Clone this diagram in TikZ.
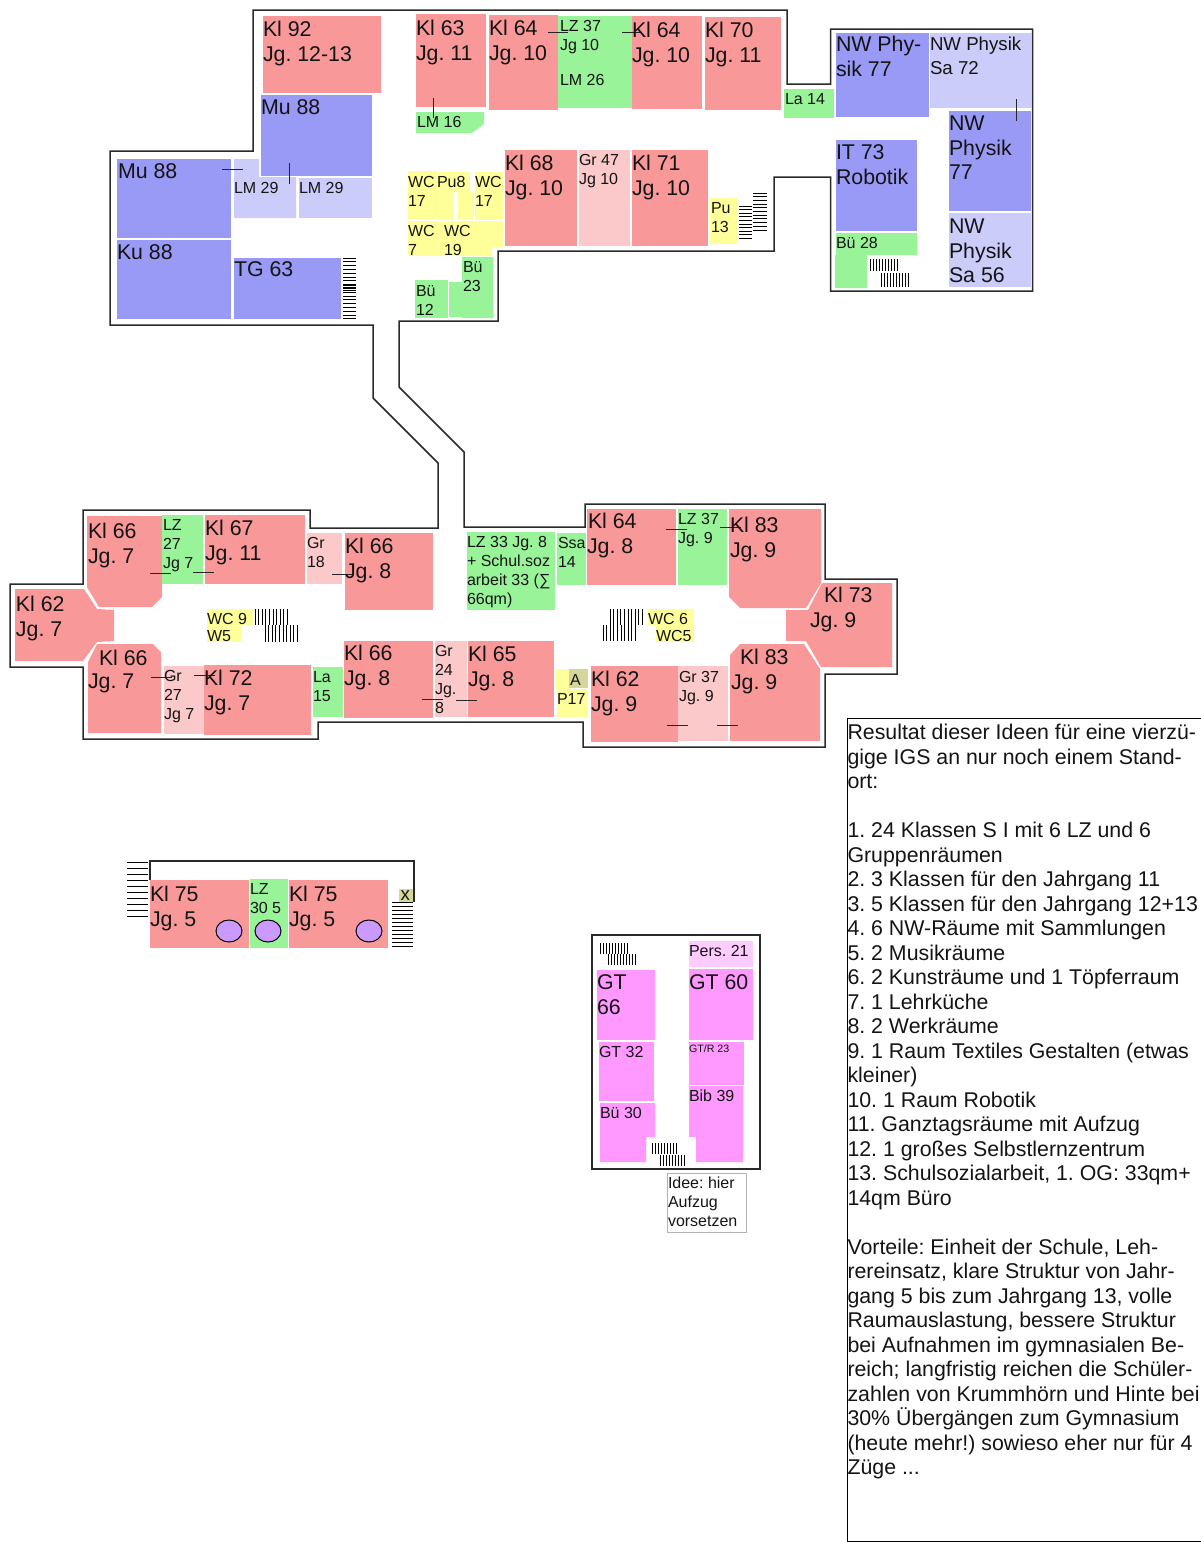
\documentclass[tikz,border=0pt]{standalone}
\usepackage{fontspec}
\setmainfont{Liberation Sans}
\frenchspacing
\definecolor{cKl}{HTML}{F89898}
\definecolor{cGr}{HTML}{FBC9C9}
\definecolor{cNw}{HTML}{9999F6}
\definecolor{cNl}{HTML}{CCCCFA}
\definecolor{cLz}{HTML}{99F399}
\definecolor{cWc}{HTML}{FFFF99}
\definecolor{cGt}{HTML}{FF99FF}
\definecolor{cPe}{HTML}{FFCCFF}
\definecolor{cOl}{HTML}{D6D69A}
\definecolor{cEl}{HTML}{CC99FF}
\definecolor{cWall}{HTML}{2A2A2A}
\tikzset{
  kl/.style={fill=cKl}, grp/.style={fill=cGr}, nwr/.style={fill=cNw}, nwl/.style={fill=cNl},
  lzr/.style={fill=cLz}, wcr/.style={fill=cWc}, gtr/.style={fill=cGt},
  wall/.style={draw=cWall,line width=1.5pt,line join=miter},
  tick/.style={draw=black!85,line width=1pt},
  stair/.style={draw=black,line width=0.9pt},
  lbl/.style={anchor=north west,inner sep=0pt,outer sep=0pt,align=left,text=black!92,yshift=-2pt},
  big/.style={lbl,font=\fontsize{21.33}{24.6}\selectfont},
  bigm/.style={lbl,font=\fontsize{18.67}{24}\selectfont},
  mid/.style={lbl,font=\fontsize{16}{19}\selectfont},
  tin/.style={lbl,font=\fontsize{10.67}{12}\selectfont},
  txt/.style={lbl,font=\fontsize{21.33}{24.5}\selectfont},
}
\newcommand\tp{\rule{0pt}{.73em}}
\newcommand\hst[5]{\foreach \q in {#3,#4,...,#5}{\draw[stair] (#1,\q) -- (#2,\q);}}
\newcommand\vst[5]{\foreach \q in {#1,#2,...,#3}{\draw[stair] (\q,#4) -- (\q,#5);}}
\begin{document}
\begin{tikzpicture}[x=1pt,y=-1pt]
\useasboundingbox (0,0) rectangle (1200,1542);
\fill[white] (0,0) rectangle (1200,1542);
% outlines
\draw[wall] (253,10) -- (787,10) -- (787,84) -- (830.5,84) -- (830.5,29) -- (1032.5,29) -- (1032.5,291) -- (830.5,291) -- (830.5,177) -- (774,177) -- (774,251) -- (498,251) -- (498,321) -- (399,321) -- (399,387) -- (464,452) -- (464,527) -- (585,527) -- (585,504) -- (825,504) -- (825,579) -- (897,579) -- (897,674) -- (825,674) -- (825,747) -- (583,747) -- (583,722) -- (318,722) -- (318,739) -- (83,739) -- (83,667) -- (10,667) -- (10,584) -- (83,584) -- (83,510) -- (310,510) -- (310,528) -- (438,528) -- (438,463) -- (373,398) -- (373,325) -- (110,325) -- (110,151) -- (253,151) -- cycle;
\draw[wall] (150,880) -- (150,861) -- (414,861) -- (414,902);
\draw[wall] (592,935) rectangle (760,1169);
% upper block rooms
\fill[kl] (263,16) rectangle (381,93);
\fill[kl] (416,14) rectangle (486,107);
\fill[kl] (489,15) rectangle (558,110);
\fill[lzr] (558,16) rectangle (632,108);
\fill[kl] (632,16) rectangle (702,109);
\fill[kl] (705,17) rectangle (781,110);
\fill[lzr] (784,89) rectangle (834,118);
\fill[nwr] (836,33) rectangle (929,117);
\fill[nwl] (930,33) rectangle (1032,108);
\fill[nwr] (949,111) rectangle (1031,211);
\fill[nwl] (949,213) rectangle (1031,287);
\fill[nwr] (836,140) rectangle (917,231);
\fill[lzr] (836,233) -- (917,233) -- (917,255) -- (867,255) -- (867,288) -- (835,288) -- (835,255) -- (836,255) -- cycle;
\fill[lzr] (416,112) -- (484,112) -- (484,124) -- (472,133) -- (416,133) -- cycle;
\fill[nwr] (261,95) rectangle (372,176);
\fill[nwr] (117,159) rectangle (231,238);
\fill[nwl] (234,159) -- (259,159) -- (259,177) -- (296,177) -- (296,218) -- (234,218) -- cycle;
\fill[nwl] (299,178) rectangle (372,218);
\fill[nwr] (117,240) rectangle (231,319);
\fill[nwr] (234,258) rectangle (341,319);
\fill[wcr] (408,171) rectangle (437,219);
\fill[wcr] (437.5,172) rectangle (470,192);
\fill[wcr] (437.5,192) rectangle (453,220);
\fill[wcr] (458,192) rectangle (474,219);
\fill[wcr] (474.5,172) rectangle (503,220);
\fill[wcr] (408,221) rectangle (443,256);
\fill[wcr] (444,221) -- (503,221) -- (503,247) -- (492,247) -- (492,256) -- (444,256) -- cycle;
\fill[lzr] (415,280) rectangle (448,318);
\fill[lzr] (462,257) -- (493,257) -- (493,318) -- (462,318) -- (462,317) -- (449,317) -- (449,282) -- (462,282) -- cycle;
\fill[kl] (505,150) rectangle (577,246);
\fill[grp] (579,150) rectangle (630,246);
\fill[kl] (632,150) rectangle (708,246);
\fill[wcr] (710,198) rectangle (737,244);
% lower block rooms
\fill[kl] (87,516) -- (162,516) -- (162,597) -- (152,607) -- (99,607) -- (87,587) -- cycle;
\fill[lzr] (162,515) rectangle (203,584);
\fill[kl] (205,515) rectangle (305,584);
\fill[grp] (307,533) rectangle (342,584);
\fill[kl] (345,533) rectangle (433,610);
\fill[kl] (15,589) -- (84,589) -- (97,609) -- (114,610) -- (114,641) -- (97,642) -- (83,661) -- (15,661) -- cycle;
\fill[kl] (88,662) -- (97,644) -- (153,644) -- (161,652) -- (161,733) -- (88,733) -- cycle;
\fill[grp] (164,666) rectangle (204,734);
\fill[kl] (204,665) rectangle (311,735);
\fill[lzr] (313,667) rectangle (343,717);
\fill[kl] (344,641) rectangle (433,718);
\fill[grp] (435,641) rectangle (467,717);
\fill[wcr] (207,609) rectangle (253,625);
\fill[wcr] (207,626) rectangle (241,642);
\fill[lzr] (467,532) rectangle (555,610);
\fill[lzr] (557,533) rectangle (586,585);
\fill[kl] (587,509) rectangle (676,585);
\fill[lzr] (678,509) rectangle (727,585);
\fill[kl] (729,509) -- (821,509) -- (821,583) -- (806,608) -- (740,608) -- (729,597) -- cycle;
\fill[kl] (822,583) -- (892,583) -- (892,667) -- (821,667) -- (806,641) -- (786,641) -- (786,610) -- (808,610) -- cycle;
\fill[kl] (730,655) -- (740,644) -- (804,644) -- (820,669) -- (820,741) -- (730,741) -- cycle;
\fill[grp] (678,666) rectangle (728,741);
\fill[kl] (591,666) rectangle (678,742);
\fill[wcr] (557,689) rectangle (588,717);
\fill[wcr] (556,669) rectangle (569,689);
\fill[cOl] (569,669) rectangle (588,688);
\fill[kl] (468,641) rectangle (554,717);
\fill[wcr] (648,609) rectangle (693,625);
\fill[wcr] (656,626) rectangle (694,642);
% Jg 5 wing
\fill[kl] (150,880) rectangle (249,948);
\fill[lzr] (250,879) rectangle (288,948);
\fill[kl] (289,880) rectangle (388,948);
\fill[cOl] (399,889) rectangle (413,902);
\draw[fill=cEl,line width=1pt] (229,931) ellipse (13 and 11);
\draw[fill=cEl,line width=1pt] (268,931) ellipse (13 and 11);
\draw[fill=cEl,line width=1pt] (369,931) ellipse (13 and 11);
% GT block
\fill[cPe] (689,941) rectangle (753,967);
\fill[gtr] (689,969) rectangle (753,1040);
\fill[gtr] (597,970) rectangle (655,1040);
\fill[gtr] (599,1042) rectangle (654,1101);
\fill[gtr] (600,1103) -- (655,1103) -- (655,1137) -- (646,1137) -- (646,1162) -- (600,1162) -- cycle;
\fill[gtr] (689,1042) rectangle (744,1085);
\fill[gtr] (689,1086) -- (743,1086) -- (743,1162) -- (696,1162) -- (696,1137) -- (689,1137) -- cycle;
\draw[black!30,line width=0.9pt] (667,1173) rectangle (746,1232);
% stairs
\hst{343}{356}{258}{261.8}{319}
\hst{343}{356}{284}{285.5}{291}
\hst{739}{752}{206}{209.6}{242}
\hst{753}{767}{193}{196.7}{230}
\vst{870}{873}{899}{259}{271}
\vst{881}{884}{909}{273}{287}
\vst{255}{258.6}{291}{609}{625}
\vst{265}{268.6}{301}{625}{642}
\vst{610}{613.6}{644}{609}{625}
\vst{603}{606.6}{637}{625}{641}
\hst{127}{148}{862}{868}{920}
\hst{392}{413}{902}{906}{946}
\vst{600}{603}{627}{943}{954}
\vst{608}{611}{635}{954}{965}
\vst{652}{655}{676}{1143}{1154}
\vst{660}{663}{684}{1155}{1166}
% door ticks
\foreach \a/\b/\c/\d in {222/169/243/169,289/163/289/184,433/98/433/118,548/32/568/32,622/32/642/32,1016/99/1016/121,150/573/171/573,193/572/214/572,332/574/353/574,151/677/172/677,194/675/215/675,422/699/443/699,666/529/687/529,720/527/741/527,456/700/477/700,667/725/688/725,717/725/738/725}{\draw[tick] (\a,\b) -- (\c,\d);}
% labels upper
\node[big] at (263,19) {\tp Kl 92\\Jg. 12-13};
\node[big] at (416,18) {\tp Kl 63\\Jg. 11};
\node[big] at (489,18) {\tp Kl 64\\Jg. 10};
\node[mid] at (560,18) {\tp LZ 37\\Jg 10};
\node[mid] at (560,72) {\tp LM 26};
\node[big] at (632,20) {\tp Kl 64\\Jg. 10};
\node[big] at (705,20) {\tp Kl 70\\Jg. 11};
\node[mid] at (785,91) {\tp La 14};
\node[big] at (836,34) {\tp NW Phy-\\sik 77};
\node[bigm] at (930,35) {\tp NW Physik\\Sa 72};
\node[big] at (949,113) {\tp NW\\Physik\\77};
\node[big] at (949,216) {\tp NW\\Physik\\Sa 56};
\node[big] at (836,142) {\tp IT 73\\Robotik};
\node[mid] at (836,235) {\tp Bü 28};
\node[mid] at (417,114) {\tp LM 16};
\node[big] at (261,97) {\tp Mu 88};
\node[big] at (118,161) {\tp Mu 88};
\node[mid] at (234,180) {\tp LM 29};
\node[mid] at (299,180) {\tp LM 29};
\node[big] at (117,242) {\tp Ku 88};
\node[big] at (234,259) {\tp TG 63};
\node[mid] at (408,174) {\tp WC\\17};
\node[mid] at (437,174) {\tp Pu8};
\node[mid] at (475,174) {\tp WC\\17};
\node[mid] at (408,223) {\tp WC\\7};
\node[mid] at (444,223) {\tp WC\\19};
\node[mid] at (463,259) {\tp Bü\\23};
\node[mid] at (416,283) {\tp Bü\\12};
\node[big] at (505,153) {\tp Kl 68\\Jg. 10};
\node[mid] at (579,152) {\tp Gr 47\\Jg 10};
\node[big] at (632,153) {\tp Kl 71\\Jg. 10};
\node[mid] at (711,200) {\tp Pu\\13};
% labels lower
\node[big] at (88,521) {\tp Kl 66\\Jg. 7};
\node[mid] at (163,517) {\tp LZ\\27\\Jg 7};
\node[big] at (205,518) {\tp Kl 67\\Jg. 11};
\node[mid] at (307,535) {\tp Gr\\18};
\node[big] at (345,536) {\tp Kl 66\\Jg. 8};
\node[big] at (16,594) {\tp Kl 62\\Jg. 7};
\node[big] at (99,648) {\tp Kl 66};
\node[big] at (88,671) {\tp Jg. 7};
\node[mid] at (164,668) {\tp Gr\\27\\Jg 7};
\node[big] at (204,668) {\tp Kl 72\\Jg. 7};
\node[mid] at (313,669) {\tp La\\15};
\node[big] at (344,643) {\tp Kl 66\\Jg. 8};
\node[mid] at (435,643) {\tp Gr\\24\\Jg.\\8};
\node[big] at (468,644) {\tp Kl 65\\Jg. 8};
\node[mid] at (207,611) {\tp WC 9};
\node[mid] at (207,628) {\tp W5};
\node[mid] at (467,534) {\tp LZ 33 Jg. 8\\+ Schul.soz\\arbeit 33 (∑\\66qm)};
\node[mid] at (558,535) {\tp Ssa\\14};
\node[big] at (588,511) {\tp Kl 64\\\hspace*{-1pt}Jg. 8};
\node[mid] at (678,511) {\tp LZ 37\\Jg. 9};
\node[big] at (730,515) {\tp Kl 83\\Jg. 9};
\node[big] at (824,585) {\tp Kl 73};
\node[big] at (810,610) {\tp Jg. 9};
\node[big] at (740,647) {\tp Kl 83};
\node[big] at (731,672) {\tp Jg. 9};
\node[mid] at (679,669) {\tp Gr 37\\Jg. 9};
\node[big] at (591,669) {\tp Kl 62\\Jg. 9};
\node[mid] at (570,672) {\tp A};
\node[mid] at (557,691) {\tp P17};
\node[mid] at (648,611) {\tp WC 6};
\node[mid] at (656,628) {\tp WC5};
% labels wing
\node[big] at (150,884) {\tp Kl 75\\Jg. 5};
\node[mid] at (250,881) {\tp LZ\\30 5};
\node[big] at (289,884) {\tp Kl 75\\Jg. 5};
\node[bigm] at (400.5,884.4) {\tp x};
% labels GT
\node[mid] at (689,943) {\tp Pers. 21};
\node[big] at (689,972) {\tp GT 60};
\node[big] at (597,972) {\tp GT\\66};
\node[mid] at (599,1044) {\tp GT 32};
\node[mid] at (600,1105) {\tp Bü 30};
\node[tin] at (689,1043) {\tp GT/R 23};
\node[mid] at (689,1088) {\tp Bib 39};
\node[mid] at (668,1175) {\tp Idee: hier\\Aufzug\\vorsetzen};
% text panel
\draw[black,line width=1pt] (847,718) -- (1205,718) (847,718) -- (847,1541.5) -- (1205,1541.5);
\node[txt] at (847.5,722) {\tp Resultat dieser Ideen für eine vierzü-\\gige IGS an nur noch einem Stand-\\ort:\\[24.5pt]1. 24 Klassen S I mit 6 LZ und 6\\Gruppenräumen\\2. 3 Klassen für den Jahrgang 11\\3. 5 Klassen für den Jahrgang 12+13\\4. 6 NW-Räume mit Sammlungen\\5. 2 Musikräume\\6. 2 Kunsträume und 1 Töpferraum\\7. 1 Lehrküche\\8. 2 Werkräume\\9. 1 Raum Textiles Gestalten (etwas\\kleiner)\\10. 1 Raum Robotik\\11. Ganztagsräume mit Aufzug\\12. 1 großes Selbstlernzentrum\\13. Schulsozialarbeit, 1. OG: 33qm+\\14qm Büro\\[24.5pt]Vorteile: Einheit der Schule, Leh-\\rereinsatz, klare Struktur von Jahr-\\gang 5 bis zum Jahrgang 13, volle\\Raumauslastung, bessere Struktur\\bei Aufnahmen im gymnasialen Be-\\reich; langfristig reichen die Schüler-\\zahlen von Krummhörn und Hinte bei\\30\% Übergängen zum Gymnasium\\(heute mehr!) sowieso eher nur für 4\\Züge ...};
\end{tikzpicture}
\end{document}
